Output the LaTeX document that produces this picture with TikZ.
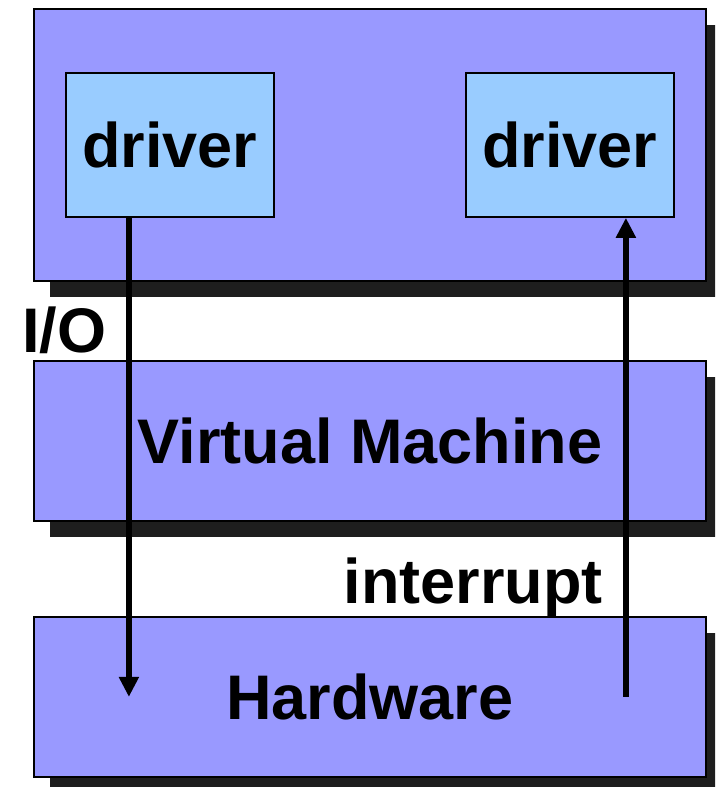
\documentclass[tikz,border=0pt]{standalone}
\usepackage{fontspec}
\setmainfont{Liberation Sans}
\usetikzlibrary{arrows.meta,shadows,calc}
\definecolor{layerblue}{RGB}{153,153,255}
\definecolor{driverblue}{RGB}{153,204,255}
\definecolor{shadowgray}{RGB}{30,30,30}
\begin{document}
\begin{tikzpicture}[x=1pt,y=-1pt,
  bigtext/.style={font=\fontsize{63}{70}\selectfont\bfseries},
  layer/.style={draw=black, line width=1.8pt, fill=layerblue, inner sep=0pt,
    minimum width=672pt, anchor=north west,
    drop shadow={shadow xshift=16pt, shadow yshift=-16pt, fill=shadowgray, opacity=1}},
  drv/.style={draw=black, line width=1.8pt, fill=driverblue, inner sep=0pt,
    minimum width=208pt, minimum height=144pt, anchor=north west, bigtext},
  flow/.style={line width=6pt, -{Triangle[width=19pt,length=20pt]}}]
  \useasboundingbox (0,0) rectangle (715,787);
  \clip (0,0) rectangle (715,787);

  % three stacked layers
  \node[layer, minimum height=272pt] (guest) at (33,8) {};
  \node[layer, minimum height=160pt, bigtext] (vm) at (33,360) {Virtual Machine};
  \node[layer, minimum height=160pt, bigtext] (hw) at (33,616) {Hardware};

  % the two drivers in the guest
  \node[drv] (drvL) at (65,72) {driver};
  \node[drv] (drvR) at (465,72) {driver};

  % labels
  \node[bigtext, anchor=base west, inner sep=0pt] (io) at (22,352) {I/O};
  \node[bigtext, anchor=base east, inner sep=0pt] (irq) at (603,603) {interrupt};

  % I/O goes down, interrupt comes up
  \coordinate (ioTop) at ([xshift=-41pt]drvL.south);
  \coordinate (irqTop) at ([xshift=56pt]drvR.south);
  \draw[flow] (ioTop) -- (ioTop |- hw.center);
  \draw[flow] (irqTop |- hw.center) -- (irqTop);
\end{tikzpicture}
\end{document}
